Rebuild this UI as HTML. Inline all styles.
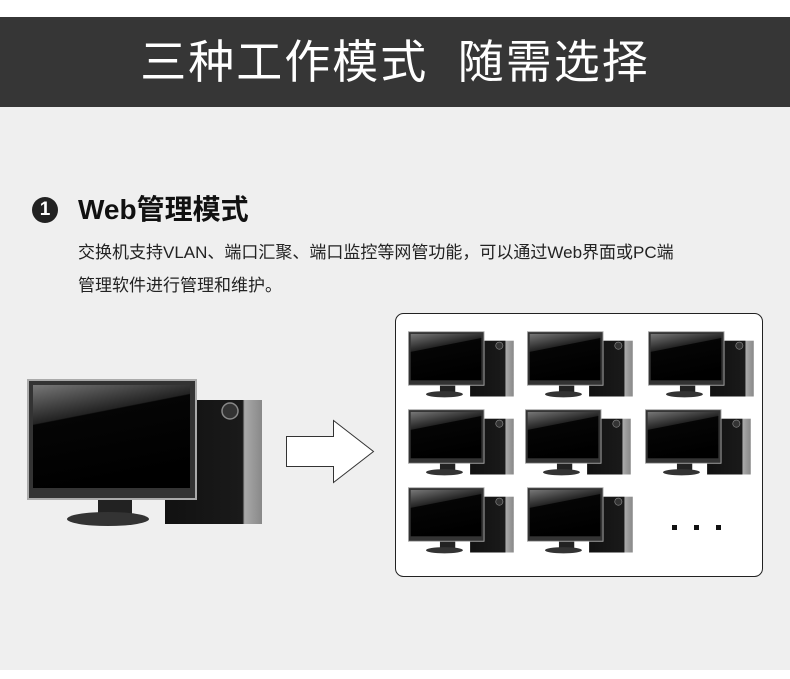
<!DOCTYPE html>
<html><head><meta charset="utf-8"><style>
body{margin:0;width:790px;height:679px;background:#fff;position:relative;overflow:hidden;font-family:"Liberation Sans","Noto Sans CJK SC",sans-serif}
.banner{position:absolute;left:0;top:17px;width:790px;height:90px;background:#363636;color:#fff;font-size:46px;text-align:center;line-height:90px;letter-spacing:2px}
.gray{position:absolute;left:0;top:107px;width:790px;height:563px;background:#efefef}
.num{position:absolute;left:32px;top:197px;width:26px;height:26px;border-radius:50%;background:#222;color:#fff;font-size:19px;font-weight:bold;text-align:center;line-height:26px}
.h{position:absolute;left:78px;top:191px;font-size:28px;font-weight:bold;color:#111;line-height:38px}
.p{position:absolute;left:78px;top:236px;font-size:17px;color:#222;line-height:33px;width:700px}
svg{position:absolute;left:0;top:0}
</style></head><body>
<div class="banner">三种工作模式&nbsp;&nbsp;随需选择</div>
<div class="gray"></div>
<div class="num">1</div>
<div class="h">Web管理模式</div>
<div class="p">交换机支持VLAN、端口汇聚、端口监控等网管功能，可以通过Web界面或PC端<br>管理软件进行管理和维护。</div>
<svg width="790" height="679" viewBox="0 0 790 679">
<defs>
<linearGradient id="scr" x1="0" y1="0" x2="0.3" y2="1"><stop offset="0" stop-color="#777"/><stop offset="0.35" stop-color="#222"/><stop offset="0.36" stop-color="#050505"/><stop offset="1" stop-color="#000"/></linearGradient>
<linearGradient id="tw" x1="0" y1="0" x2="1" y2="0"><stop offset="0" stop-color="#111"/><stop offset="0.8" stop-color="#1a1a1a"/><stop offset="0.82" stop-color="#aaa"/><stop offset="1" stop-color="#888"/></linearGradient>
<symbol id="pc" viewBox="0 0 240 150">
<rect x="138" y="21" width="97" height="124" fill="url(#tw)"/>
<circle cx="203" cy="32" r="8" fill="#333" stroke="#888" stroke-width="1.5"/>
<rect x="71" y="118" width="34" height="18" fill="#222"/>
<ellipse cx="81" cy="140" rx="41" ry="7" fill="#333"/>
<rect x="0" y="0" width="170" height="121" fill="#aaa"/>
<rect x="2" y="2" width="166" height="117" fill="#333"/>
<rect x="6" y="6" width="157" height="103" fill="url(#scr)"/>
</symbol>
</defs>
<use href="#pc" x="27" y="379" width="240" height="150"/>
<path d="M286.5 436.5H333.5V420.5L373.5 451.5L333.5 482.5V466.5H286.5Z" fill="#fff" stroke="#333" stroke-width="1"/>
<rect x="395.5" y="313.5" width="367" height="263" rx="8" fill="#fff" stroke="#222" stroke-width="1"/>
<use href="#pc" x="408" y="331" width="108" height="68"/>
<use href="#pc" x="527" y="331" width="108" height="68"/>
<use href="#pc" x="648" y="331" width="108" height="68"/>
<use href="#pc" x="408" y="409" width="108" height="68"/>
<use href="#pc" x="525" y="409" width="108" height="68"/>
<use href="#pc" x="645" y="409" width="108" height="68"/>
<use href="#pc" x="408" y="487" width="108" height="68"/>
<use href="#pc" x="527" y="487" width="108" height="68"/>
<rect x="672" y="525" width="5" height="5" fill="#111"/>
<rect x="694" y="525" width="5" height="5" fill="#111"/>
<rect x="716" y="525" width="5" height="5" fill="#111"/>
</svg>
</body></html>
